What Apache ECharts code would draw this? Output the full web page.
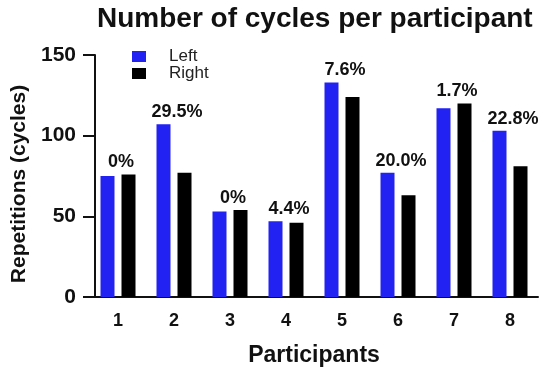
<!DOCTYPE html>
<html>
<head>
<meta charset="utf-8">
<script src="https://cdn.jsdelivr.net/npm/echarts@6/dist/echarts.min.js"></script>
<style>html,body{margin:0;padding:0;background:#fff;}#c{width:550px;height:372px;}</style>
</head>
<body>
<div id="c"></div>
<script>
var categories = ['1', '2', '3', '4', '5', '6', '7', '8'];
var leftValues = [75, 107, 53, 47, 133, 77, 117, 103];
var rightValues = [76, 77, 54, 46, 124, 63, 120, 81];
var pctLabels = ['0%', '29.5%', '0%', '4.4%', '7.6%', '20.0%', '1.7%', '22.8%'];
var yTicks = [0, 50, 100, 150];

var labelAnchor = leftValues.map(function (v, i) { return Math.max(v, rightValues[i]); });

var chart = echarts.init(document.getElementById('c'), null, { renderer: 'canvas' });
var fontFam = '"Liberation Sans", Arial, sans-serif';
chart.setOption({
  animation: false,
  backgroundColor: '#ffffff',
  title: {
    text: 'Number of cycles per participant',
    left: 92, top: 0,
    textStyle: { fontFamily: fontFam, fontSize: 28, fontWeight: 'bold', color: '#111' }
  },
  legend: {
    left: 127, top: 43, orient: 'vertical',
    itemWidth: 14, itemHeight: 11, itemGap: 0,
    icon: 'rect',
    data: ['Left', 'Right'],
    textStyle: { fontFamily: fontFam, fontSize: 17, color: '#222', padding: [0, 0, 0, 18] }
  },
  grid: { left: 90, right: 12, top: 55, bottom: 71 },
  xAxis: {
    type: 'category',
    data: categories,
    name: 'Participants',
    nameLocation: 'middle',
    nameGap: 47,
    nameTextStyle: { fontFamily: fontFam, fontSize: 23, fontWeight: 'bold', color: '#111' },
    axisLine: { lineStyle: { color: '#111', width: 2 } },
    axisTick: { alignWithLabel: true, length: 9, lineStyle: { width: 2, color: '#111' } },
    axisLabel: { fontFamily: fontFam, fontSize: 18, fontWeight: 'bold', color: '#111', margin: 15 }
  },
  yAxis: {
    type: 'value',
    min: yTicks[0], max: yTicks[yTicks.length - 1], interval: 50,
    offset: -5,
    name: 'Repetitions (cycles)',
    nameLocation: 'middle',
    nameGap: 65,
    nameRotate: 90,
    nameTextStyle: { fontFamily: fontFam, fontSize: 21, fontWeight: 'bold', color: '#111', padding: [0, 16, 0, 0] },
    axisLine: { show: true, lineStyle: { color: '#111', width: 2 } },
    axisTick: { show: true, length: 12, lineStyle: { width: 2, color: '#111' } },
    splitLine: { show: false },
    axisLabel: { fontFamily: fontFam, fontSize: 21, fontWeight: 'bold', color: '#111', margin: 19 }
  },
  series: [
    {
      name: 'Left', type: 'bar', data: leftValues,
      barWidth: 14, barGap: '50%',
      itemStyle: { color: '#2222f2' }
    },
    {
      name: 'Right', type: 'bar', data: rightValues,
      barWidth: 14,
      itemStyle: { color: '#000000' }
    },
    {
      name: 'pct', type: 'scatter', data: labelAnchor,
      symbolSize: 0, silent: true, z: 5,
      itemStyle: { opacity: 1 },
      label: {
        show: true, position: 'top', distance: 3, offset: [3, 0],
        formatter: function (p) { return pctLabels[p.dataIndex]; },
        fontFamily: fontFam, fontSize: 18, fontWeight: 'bold', color: '#111', opacity: 1
      }
    }
  ]
});
</script>
</body>
</html>
